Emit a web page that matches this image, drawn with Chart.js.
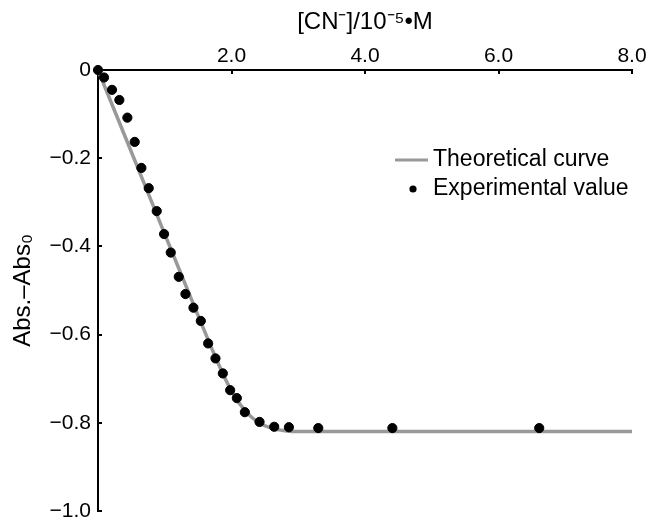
<!DOCTYPE html>
<html>
<head>
<meta charset="utf-8">
<script src="https://cdn.jsdelivr.net/npm/chart.js@4"></script>
<style>
  html,body{margin:0;padding:0;background:#fff;}
  #wrap{width:651px;height:521px;}
</style>
</head>
<body>
<div id="wrap"><canvas id="titration-chart" width="651" height="521"></canvas></div>
<script>
// experimental points
const expX=[0,0.09,0.21,0.32,0.44,0.55,0.65,0.76,0.88,0.99,1.09,1.21,1.31,1.43,1.54,1.65,1.76,1.87,1.98,2.08,2.20,2.42,2.64,2.86,3.30,4.41,6.61];
const expY=[0,-0.017,-0.045,-0.068,-0.108,-0.163,-0.222,-0.268,-0.320,-0.372,-0.414,-0.469,-0.508,-0.539,-0.569,-0.620,-0.654,-0.688,-0.726,-0.744,-0.776,-0.798,-0.809,-0.810,-0.812,-0.812,-0.812];

// theoretical curve
const theoX=[0,0.5,1.0,1.5,1.8,2.0,2.2,2.4,2.6,2.8,3.0,3.5,8.0];
const theoY=[0,-0.186,-0.372,-0.557,-0.665,-0.728,-0.772,-0.799,-0.812,-0.818,-0.820,-0.820,-0.820];

const xTitle="[CN\u207B]/10\u207B\u2075\u2022M";
const yTitle="Abs.\u2013Abs\u2080";
const legendLabels=["Theoretical curve","Experimental value"];

const fontFamily="'Liberation Sans', Arial, sans-serif";
const lineGray="#999999";

const toPoints=(xs,ys)=>xs.map((x,i)=>({x:x,y:ys[i]}));

// small inward tick marks on both axes
const innerTicks={
  id:"innerTicks",
  beforeDatasetsDraw(chart){
    const {ctx,scales:{x,y},chartArea}=chart;
    ctx.save();
    ctx.strokeStyle="#000";
    ctx.lineWidth=2;
    x.ticks.forEach(t=>{
      if(t.value===0) return;
      const px=Math.round(x.getPixelForValue(t.value));
      ctx.beginPath();
      ctx.moveTo(px,chartArea.top);
      ctx.lineTo(px,chartArea.top+4);
      ctx.stroke();
    });
    y.ticks.forEach(t=>{
      if(t.value===0) return;
      const py=Math.round(y.getPixelForValue(t.value));
      ctx.beginPath();
      ctx.moveTo(chartArea.left,py);
      ctx.lineTo(chartArea.left+4,py);
      ctx.stroke();
    });
    ctx.restore();
  }
};

// legend drawn inside the plot, right side
const insideLegend={
  id:"insideLegend",
  afterDraw(chart){
    const {ctx,chartArea}=chart;
    const x0=chartArea.right-237;
    const row1=chartArea.top+90, row2=chartArea.top+119;
    const textX=x0+38;
    ctx.save();
    ctx.strokeStyle=lineGray;
    ctx.lineWidth=3;
    ctx.beginPath();
    ctx.moveTo(x0,row1);
    ctx.lineTo(x0+33,row1);
    ctx.stroke();
    ctx.fillStyle="#000";
    ctx.beginPath();
    ctx.arc(x0+18,row2,3.6,0,Math.PI*2);
    ctx.fill();
    ctx.font="23px "+fontFamily;
    ctx.textBaseline="middle";
    ctx.textAlign="left";
    ctx.fillText(legendLabels[0],textX,row1);
    ctx.fillText(legendLabels[1],textX,row2);
    ctx.restore();
  }
};

new Chart(document.getElementById("titration-chart"),{
  type:"scatter",
  data:{
    datasets:[
      {
        label:legendLabels[1],
        data:toPoints(expX,expY),
        backgroundColor:"#000",
        borderColor:"#000",
        pointRadius:4.6,
        pointHoverRadius:4.6,
        clip:false,
        order:0
      },
      {
        label:legendLabels[0],
        data:toPoints(theoX,theoY),
        showLine:true,
        borderColor:lineGray,
        borderWidth:3.5,
        pointRadius:0,
        cubicInterpolationMode:"monotone",
        fill:false,
        order:1
      }
    ]
  },
  options:{
    responsive:false,
    animation:false,
    layout:{padding:{left:0,top:0,right:19,bottom:10}},
    plugins:{legend:{display:false},tooltip:{enabled:false}},
    scales:{
      x:{
        type:"linear",
        position:"top",
        min:0,max:8,
        grid:{display:false,drawTicks:false},
        border:{display:true,color:"#000",width:2},
        ticks:{
          stepSize:2,
          padding:1,
          color:"#000",
          font:{family:fontFamily,size:21},
          maxRotation:0,
          callback:v=>v===0?"":v.toFixed(1)
        },
        title:{display:true,text:xTitle,color:"#000",font:{family:fontFamily,size:24},padding:{top:8,bottom:0}},
        afterFit:s=>{s.height=70;s.paddingLeft=0;s.paddingRight=0;}
      },
      y:{
        type:"linear",
        min:-1,max:0,
        grid:{display:false,drawTicks:false},
        border:{display:true,color:"#000",width:2},
        ticks:{
          stepSize:0.2,
          padding:7,
          color:"#000",
          font:{family:fontFamily,size:21},
          callback:v=>Math.abs(v)<1e-9?"0":"\u2212"+Math.abs(v).toFixed(1)
        },
        title:{display:true,text:yTitle,color:"#000",font:{family:fontFamily,size:24},padding:{top:9,bottom:0}},
        afterFit:s=>{s.width=98;s.paddingTop=0;s.paddingBottom=0;}
      }
    }
  },
  plugins:[innerTicks,insideLegend]
});
</script>
</body>
</html>
